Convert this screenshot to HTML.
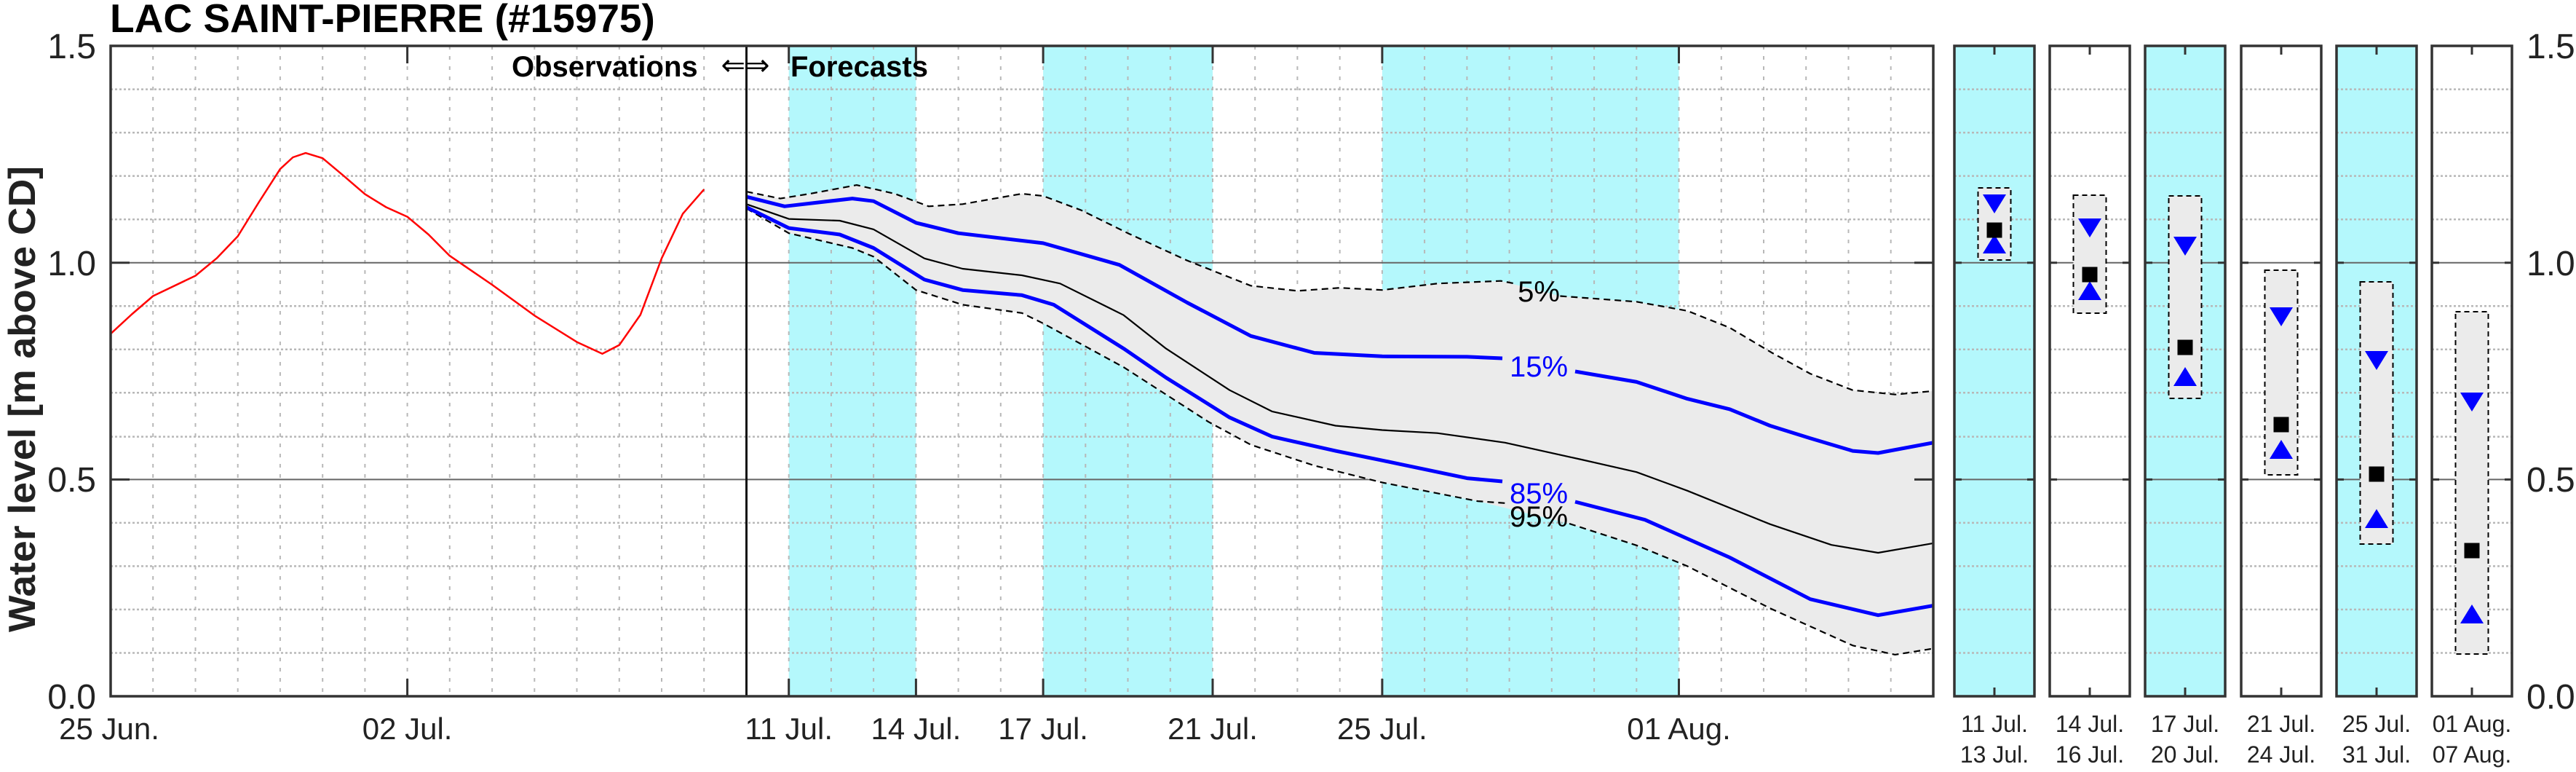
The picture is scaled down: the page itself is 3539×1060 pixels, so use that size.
<!DOCTYPE html>
<html><head><meta charset="utf-8"><style>
html,body{margin:0;padding:0;background:#fff;}
svg{display:block;}
text{font-family:"Liberation Sans",Arial,sans-serif;}
</style></head><body>
<svg width="3539" height="1060" viewBox="0 0 3539 1060" xmlns="http://www.w3.org/2000/svg">
<rect width="3539" height="1060" fill="#fff"/>
<defs>
  <clipPath id="mc"><rect x="152" y="63" width="2504" height="893"/></clipPath>
</defs>
<rect x="1083.7" y="63" width="174.7" height="893" fill="#b4f8fc"/>
<rect x="1433.1" y="63" width="232.9" height="893" fill="#b4f8fc"/>
<rect x="1898.9" y="63" width="407.6" height="893" fill="#b4f8fc"/>
<g stroke="#b8b8b8" stroke-width="2" stroke-dasharray="5,9">
<path d="M210.2 63V956M268.5 63V956M326.7 63V956M384.9 63V956M443.2 63V956M501.4 63V956M559.6 63V956M617.8 63V956M676.1 63V956M734.3 63V956M792.5 63V956M850.8 63V956M909 63V956M967.2 63V956M1083.7 63V956M1141.9 63V956M1200.1 63V956M1258.4 63V956M1316.6 63V956M1374.8 63V956M1433.1 63V956M1491.3 63V956M1549.5 63V956M1607.8 63V956M1666 63V956M1724.2 63V956M1782.4 63V956M1840.7 63V956M1898.9 63V956M1957.1 63V956M2015.4 63V956M2073.6 63V956M2131.8 63V956M2190.1 63V956M2248.3 63V956M2306.5 63V956M2364.8 63V956M2423 63V956M2481.2 63V956M2539.5 63V956M2597.7 63V956"/>
</g>
<g stroke="#b8b8b8" stroke-width="2.5" stroke-dasharray="3,3">
<path d="M152 896.5H2656M152 836.9H2656M152 777.4H2656M152 717.9H2656M152 599.6H2656M152 539.3H2656M152 479.8H2656M152 420.2H2656M152 301.2H2656M152 241.6H2656M152 182.1H2656M152 122.6H2656"/>
</g>
<g stroke="#666" stroke-width="2"><path d="M152 658.4H2656M152 360.7H2656"/></g>
<g clip-path="url(#mc)">
<polygon fill="#ebebeb" points="1025.5,263.1 1072,272.6 1112.8,266 1176.9,254.1 1229.3,266 1275.8,283.3 1322.4,280.3 1403.9,266 1433.1,269 1485.5,288.7 1549.5,320.2 1631,357.7 1718.4,392.3 1782.4,399.4 1840.7,395.2 1898.9,398.2 1974.6,389.3 2061.9,385.7 2143.4,406.5 2248.3,414.3 2318.2,426.8 2376.4,450 2434.6,484.5 2487,513.1 2545.3,535.7 2603.5,541.7 2655.9,536.9 2655.9,890.5 2603.5,898.9 2545.3,886.3 2431.7,835.2 2318.2,777.4 2248.3,748.8 2156,719 2029.9,688.1 1898.9,662.5 1805.7,639.3 1718.4,610.7 1660.2,579.2 1601.9,541.7 1543.7,504.2 1433.1,444 1403.9,429.8 1322.4,418.4 1258.4,398.2 1200.1,352.4 1171,340.5 1083.7,320.2 1025.5,286.3"/>
<g fill="none" stroke="#000" stroke-width="2.2" stroke-dasharray="9,6" stroke-linejoin="round">
<polyline points="1025.5,263.1 1072,272.6 1112.8,266 1176.9,254.1 1229.3,266 1275.8,283.3 1322.4,280.3 1403.9,266 1433.1,269 1485.5,288.7 1549.5,320.2 1631,357.7 1718.4,392.3 1782.4,399.4 1840.7,395.2 1898.9,398.2 1974.6,389.3 2061.9,385.7 2079,389"/>
<polyline points="2143.4,406.5 2248.3,414.3 2318.2,426.8 2376.4,450 2434.6,484.5 2487,513.1 2545.3,535.7 2603.5,541.7 2655.9,536.9"/>
<polyline points="1025.5,286.3 1083.7,320.2 1171,340.5 1200.1,352.4 1258.4,398.2 1322.4,418.4 1403.9,429.8 1433.1,444 1543.7,504.2 1601.9,541.7 1660.2,579.2 1718.4,610.7 1805.7,639.3 1898.9,662.5 2029.9,688.1 2070,691"/>
<polyline points="2156,719 2248.3,748.8 2318.2,777.4 2431.7,835.2 2545.3,886.3 2603.5,898.9 2655.9,890.5"/>
</g>
<polyline fill="none" stroke="#000" stroke-width="2.2" stroke-linejoin="round" points="1025.5,280.3 1083.7,300.6 1153.6,303 1200.1,314.9 1270,354.8 1322.4,369 1403.9,378 1456.4,389.3 1543.7,432.7 1601.9,478.6 1689.3,535.7 1747.5,564.9 1834.8,584.5 1898.9,590.5 1974.6,594.7 2067.7,607.8 2172.6,631 2248.3,648.2 2318.2,673.8 2431.7,719.7 2516.1,748.2 2580.2,759 2655.9,745.9"/>
<g fill="none" stroke="#0000ff" stroke-width="5" stroke-linejoin="round">
<polyline points="1025.5,270.2 1077.9,283.3 1171,272.6 1200.1,276.2 1258.4,305.9 1316.6,320.2 1433.1,333.9 1537.9,363.7 1631,415.5 1718.4,461.3 1805.7,484.5 1898.9,489.3 2015.4,489.9 2064,492"/>
<polyline points="2164,510 2248.3,524.4 2318.2,547.6 2376.4,561.9 2431.7,584.5 2487,601.8 2545.3,619.1 2580.2,622 2655.9,607.8"/>
<polyline points="1025.5,284.5 1083.7,313.1 1153.6,322 1200.1,340.5 1270,383.9 1322.4,398.2 1403.9,405.3 1447.6,418.4 1543.7,478.6 1601.9,518.5 1689.3,573.2 1747.5,599.4 1834.8,619.1 1898.9,632.2 2015.4,656.6 2064,661"/>
<polyline points="2164,689 2259.9,713.7 2376.4,765.5 2487,822.7 2580.2,844.7 2655.9,831.6"/>
</g>
<polyline fill="none" stroke="#ff0000" stroke-width="2.5" stroke-linejoin="round" points="152,458.3 181.1,431.5 210.2,406.5 268.5,378.6 297.6,354.7 326.7,324.4 355.8,277.4 384.9,232.1 402.4,216 419.9,210.1 443.2,217.2 472.3,241.6 501.4,266.6 530.5,284.5 559.6,297.6 588.7,322 617.8,351.2 676.1,391 734.3,433.3 792.5,469.6 827.5,485.7 850.8,473.8 879.9,432.1 909,354.7 938.1,293.4 967.2,260.1"/>
</g>
<text x="2114" y="414" font-size="40" text-anchor="middle" fill="#000">5%</text>
<text x="2114" y="517" font-size="40" text-anchor="middle" fill="#0000ff">15%</text>
<text x="2114" y="691" font-size="40" text-anchor="middle" fill="#0000ff">85%</text>
<text x="2114" y="723" font-size="40" text-anchor="middle" fill="#000">95%</text>
<path d="M1025.5 63V956" stroke="#111" stroke-width="3"/>
<g stroke="#333" stroke-width="3">
<path d="M559.6 63v24M559.6 956v-24M1083.7 63v24M1083.7 956v-24M1258.4 63v24M1258.4 956v-24M1433.1 63v24M1433.1 956v-24M1666 63v24M1666 956v-24M1898.9 63v24M1898.9 956v-24M2306.5 63v24M2306.5 956v-24"/>
<path d="M152 658.4h26M152 360.7h26M2656 658.4h-26M2656 360.7h-26"/>
</g>
<rect x="152" y="63" width="2504" height="893" fill="none" stroke="#333" stroke-width="3.5"/>
<text x="151" y="44" font-size="55" font-weight="bold" fill="#000">LAC SAINT-PIERRE (#15975)</text>
<text x="703" y="105" font-size="40" font-weight="bold" fill="#000">Observations</text>
<text x="1024" y="103" font-size="40" text-anchor="middle" fill="#000">⇐⇒</text>
<text x="1086" y="105" font-size="40" font-weight="bold" fill="#000">Forecasts</text>
<text transform="translate(48,548) rotate(-90)" font-size="52" font-weight="bold" text-anchor="middle" textLength="640" lengthAdjust="spacingAndGlyphs" fill="#222">Water level [m above CD]</text>
<g font-size="48" fill="#222" text-anchor="end">
<text x="132" y="80">1.5</text><text x="132" y="378">1.0</text><text x="132" y="675">0.5</text><text x="132" y="973">0.0</text>
</g>
<g font-size="48" fill="#222">
<text x="3471" y="80">1.5</text><text x="3471" y="378">1.0</text><text x="3471" y="675">0.5</text><text x="3471" y="973">0.0</text>
</g>
<g font-size="42" fill="#222" text-anchor="middle">
<text x="150" y="1015">25 Jun.</text><text x="559.6" y="1015">02 Jul.</text>
<text x="1083.7" y="1015">11 Jul.</text><text x="1258.4" y="1015">14 Jul.</text>
<text x="1433.1" y="1015">17 Jul.</text><text x="1666" y="1015">21 Jul.</text>
<text x="1898.9" y="1015">25 Jul.</text><text x="2306.5" y="1015">01 Aug.</text>
</g>
<g>
<rect x="2685" y="63" width="110" height="893" fill="#b4f8fc"/>
<rect x="2947" y="63" width="110" height="893" fill="#b4f8fc"/>
<rect x="3210" y="63" width="110" height="893" fill="#b4f8fc"/>
<g stroke="#b8b8b8" stroke-width="2.5" stroke-dasharray="3,3">
<path d="M2685 896.5h110M2685 836.9h110M2685 777.4h110M2685 717.9h110M2685 599.6h110M2685 539.3h110M2685 479.8h110M2685 420.2h110M2685 301.2h110M2685 241.6h110M2685 182.1h110M2685 122.6h110"/>
<path d="M2816 896.5h110M2816 836.9h110M2816 777.4h110M2816 717.9h110M2816 599.6h110M2816 539.3h110M2816 479.8h110M2816 420.2h110M2816 301.2h110M2816 241.6h110M2816 182.1h110M2816 122.6h110"/>
<path d="M2947 896.5h110M2947 836.9h110M2947 777.4h110M2947 717.9h110M2947 599.6h110M2947 539.3h110M2947 479.8h110M2947 420.2h110M2947 301.2h110M2947 241.6h110M2947 182.1h110M2947 122.6h110"/>
<path d="M3079 896.5h110M3079 836.9h110M3079 777.4h110M3079 717.9h110M3079 599.6h110M3079 539.3h110M3079 479.8h110M3079 420.2h110M3079 301.2h110M3079 241.6h110M3079 182.1h110M3079 122.6h110"/>
<path d="M3210 896.5h110M3210 836.9h110M3210 777.4h110M3210 717.9h110M3210 599.6h110M3210 539.3h110M3210 479.8h110M3210 420.2h110M3210 301.2h110M3210 241.6h110M3210 182.1h110M3210 122.6h110"/>
<path d="M3341 896.5h110M3341 836.9h110M3341 777.4h110M3341 717.9h110M3341 599.6h110M3341 539.3h110M3341 479.8h110M3341 420.2h110M3341 301.2h110M3341 241.6h110M3341 182.1h110M3341 122.6h110"/>
</g>
<g stroke="#666" stroke-width="2">
<path d="M2685 658.4h110M2685 360.7h110M2816 658.4h110M2816 360.7h110M2947 658.4h110M2947 360.7h110M3079 658.4h110M3079 360.7h110M3210 658.4h110M3210 360.7h110M3341 658.4h110M3341 360.7h110"/>
</g>
<g fill="#ebebeb" stroke="#000" stroke-width="2" stroke-dasharray="7,5">
<rect x="2717.5" y="258" width="45" height="99"/>
<rect x="2848.5" y="268" width="45" height="162"/>
<rect x="2979.5" y="269" width="45" height="278"/>
<rect x="3111.5" y="371" width="45" height="281"/>
<rect x="3242.5" y="387" width="45" height="360"/>
<rect x="3373.5" y="428" width="45" height="470"/>
</g>
<g fill="#0000ff">
<polygon points="2724,267 2756,267 2740,293"/><polygon points="2724,348 2756,348 2740,322"/>
<polygon points="2855,300 2887,300 2871,326"/><polygon points="2855,412 2887,412 2871,386"/>
<polygon points="2986,325 3018,325 3002,351"/><polygon points="2986,530 3018,530 3002,504"/>
<polygon points="3118,422 3150,422 3134,448"/><polygon points="3118,630 3150,630 3134,604"/>
<polygon points="3249,482 3281,482 3265,508"/><polygon points="3249,725 3281,725 3265,699"/>
<polygon points="3380,539 3412,539 3396,565"/><polygon points="3380,856 3412,856 3396,830"/>
</g>
<g fill="#000">
<rect x="2729.5" y="305.5" width="21" height="21"/>
<rect x="2860.5" y="366.5" width="21" height="21"/>
<rect x="2991.5" y="466.5" width="21" height="21"/>
<rect x="3123.5" y="572.5" width="21" height="21"/>
<rect x="3254.5" y="640.5" width="21" height="21"/>
<rect x="3385.5" y="745.5" width="21" height="21"/>
</g>
<g stroke="#333" stroke-width="3">
<path d="M2740 63v12M2740 956v-12M2871 63v12M2871 956v-12M3002 63v12M3002 956v-12M3134 63v12M3134 956v-12M3265 63v12M3265 956v-12M3396 63v12M3396 956v-12"/>
<path d="M2685 658.4h10M2685 360.7h10M2795 658.4h-10M2795 360.7h-10M2816 658.4h10M2816 360.7h10M2926 658.4h-10M2926 360.7h-10M2947 658.4h10M2947 360.7h10M3057 658.4h-10M3057 360.7h-10M3079 658.4h10M3079 360.7h10M3189 658.4h-10M3189 360.7h-10M3210 658.4h10M3210 360.7h10M3320 658.4h-10M3320 360.7h-10M3341 658.4h10M3341 360.7h10M3451 658.4h-10M3451 360.7h-10"/>
</g>
<g fill="none" stroke="#333" stroke-width="3.5">
<rect x="2685" y="63" width="110" height="893"/>
<rect x="2816" y="63" width="110" height="893"/>
<rect x="2947" y="63" width="110" height="893"/>
<rect x="3079" y="63" width="110" height="893"/>
<rect x="3210" y="63" width="110" height="893"/>
<rect x="3341" y="63" width="110" height="893"/>
</g>
<g font-size="32" fill="#222" text-anchor="middle">
<text x="2740" y="1005">11 Jul.</text><text x="2740" y="1047">13 Jul.</text>
<text x="2871" y="1005">14 Jul.</text><text x="2871" y="1047">16 Jul.</text>
<text x="3002" y="1005">17 Jul.</text><text x="3002" y="1047">20 Jul.</text>
<text x="3134" y="1005">21 Jul.</text><text x="3134" y="1047">24 Jul.</text>
<text x="3265" y="1005">25 Jul.</text><text x="3265" y="1047">31 Jul.</text>
<text x="3396" y="1005">01 Aug.</text><text x="3396" y="1047">07 Aug.</text>
</g>
</g>
</svg>
</body></html>
